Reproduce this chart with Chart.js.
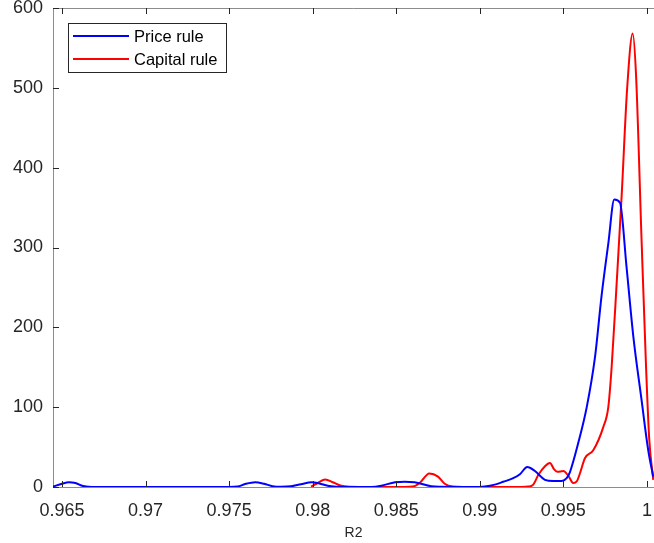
<!DOCTYPE html>
<html lang="en">
<head>
  <meta charset="UTF-8" />
  <title>R2 density</title>
  <script src="https://cdn.jsdelivr.net/npm/chart.js"></script>
  <style>
    body { margin: 0; background: #fff; }
    canvas { display: block; }
  </style>
</head>
<body>
  <canvas id="graficoR2" width="654" height="543"></canvas>

  <script>
    // density estimates of R2 for each rule
    const priceR2 = [0.96446, 0.9650, 0.9654, 0.9658, 0.9662, 0.9666, 0.9670, 0.9750, 0.9755, 0.9760, 0.97656, 0.9771, 0.9776,
      0.9781, 0.9787, 0.9793, 0.97995, 0.9804, 0.9809, 0.9815, 0.9820, 0.9835, 0.9841, 0.98493, 0.9855, 0.9861, 0.9866,
      0.9871, 0.9877, 0.9882, 0.9900, 0.9903, 0.9909, 0.9914, 0.9920, 0.9924, 0.99284, 0.9933, 0.9939, 0.9944, 0.9949,
      0.9952, 0.9954, 0.99589, 0.9964, 0.99689, 0.99729, 0.99769, 0.99805, 0.99839, 0.99878, 0.99918, 0.99968, 1.00008, 1.00038];
    const priceDensity = [0.5, 4, 6, 5, 1.5, 0.3, 0, 0, 0.5, 4, 6, 4, 1,
      0.3, 0.8, 3.5, 6, 4.5, 1.5, 0.3, 0, 0, 1.5, 6, 6.5, 6, 3.5,
      1, 0.2, 0, 0, 0.5, 3, 6.5, 11, 16, 25, 20, 9, 7.5, 7.5,
      11, 19, 55, 100, 162, 240, 305, 360, 356, 276, 190, 109, 46, 13];

    const capitalR2 = [0.9799, 0.9803, 0.98075, 0.9812, 0.9817, 0.9822, 0.9828, 0.9855, 0.9860, 0.9864, 0.98698, 0.9875,
      0.9879, 0.9884, 0.9890, 0.9925, 0.9929, 0.9932, 0.9935, 0.9939, 0.9942, 0.99445, 0.99464, 0.9950, 0.9953, 0.99559,
      0.9958, 0.9960, 0.99629, 0.99679, 0.99739, 0.99769, 0.99789, 0.99819, 0.99849, 0.99882, 0.99915, 0.99935, 0.99968,
      0.99995, 1.00014, 1.00038];
    const capitalDensity = [0.5, 5, 9.5, 6, 1.5, 0.2, 0, 0, 0.5, 5, 17, 13,
      4, 0.5, 0, 0, 0.5, 3, 15, 26, 30, 22, 19, 20, 14, 5,
      7, 17.5, 36, 46, 75, 100, 150, 255, 365, 500, 568, 516, 310,
      150, 60, 9];

    const xTicks = [0.965, 0.97, 0.975, 0.98, 0.985, 0.99, 0.995, 1];
    const xTickLabels = ['0.965', '0.97', '0.975', '0.98', '0.985', '0.99', '0.995', '1'];
    const yTicks = [0, 100, 200, 300, 400, 500, 600];
    const yTickLabels = ['0', '100', '200', '300', '400', '500', '600'];

    const corTexto = '#262626';
    const corEixo = '#8c8c8c';
    const fonte = '"Liberation Sans", Arial, sans-serif';

    // box, inward ticks and the legend inside the plot
    const molduraPlugin = {
      id: 'moldura',
      afterDraw(chart) {
        const { ctx, chartArea: a, scales: { x, y } } = chart;
        ctx.save();
        ctx.lineWidth = 1;
        ctx.strokeStyle = corEixo;
        ctx.beginPath();
        ctx.moveTo(a.left + 0.5, a.top + 0.5);
        ctx.lineTo(a.right, a.top + 0.5);
        ctx.stroke();

        ctx.strokeStyle = corTexto;
        ctx.beginPath();
        xTicks.forEach(v => {
          const px = Math.round(x.getPixelForValue(v)) + 0.5;
          ctx.moveTo(px, a.bottom);
          ctx.lineTo(px, a.bottom - 6);
          ctx.moveTo(px, a.top);
          ctx.lineTo(px, a.top + 6);
        });
        yTicks.forEach(v => {
          const py = Math.round(y.getPixelForValue(v)) + 0.5;
          ctx.moveTo(a.left, py);
          ctx.lineTo(a.left + 6, py);
        });
        ctx.stroke();

        // legend
        const lx = 68, ly = 23, lw = 158, lh = 49;
        ctx.fillStyle = '#fff';
        ctx.fillRect(lx, ly, lw, lh);
        ctx.strokeStyle = corTexto;
        ctx.strokeRect(lx + 0.5, ly + 0.5, lw, lh);
        ctx.font = '16.5px ' + fonte;
        ctx.textBaseline = 'middle';
        chart.data.datasets.forEach((ds, i) => {
          const cy = ly + 13 + i * 23;
          ctx.strokeStyle = ds.borderColor;
          ctx.lineWidth = 2;
          ctx.beginPath();
          ctx.moveTo(lx + 5, cy);
          ctx.lineTo(lx + 61, cy);
          ctx.stroke();
          ctx.fillStyle = '#000';
          ctx.fillText(ds.label, lx + 66, cy + 1);
        });
        ctx.restore();
      }
    };

    new Chart(document.getElementById('graficoR2'), {
      type: 'line',
      data: {
        datasets: [
          {
            label: 'Price rule',
            data: priceR2.map((v, i) => ({ x: v, y: priceDensity[i] })),
            borderColor: '#0000ff',
            borderWidth: 2,
            pointRadius: 0,
            fill: false,
            cubicInterpolationMode: 'monotone'
          },
          {
            label: 'Capital rule',
            data: capitalR2.map((v, i) => ({ x: v, y: capitalDensity[i] })),
            borderColor: '#ff0000',
            borderWidth: 2,
            pointRadius: 0,
            fill: false,
            cubicInterpolationMode: 'monotone'
          }
        ]
      },
      options: {
        responsive: false,
        animation: false,
        layout: { padding: { top: 8, right: 0, left: 0, bottom: 0 } },
        plugins: {
          legend: { display: false },
          tooltip: { enabled: false }
        },
        scales: {
          x: {
            type: 'linear',
            min: 0.96446,
            max: 1.000425,
            afterBuildTicks: s => { s.ticks = xTicks.map(v => ({ value: v })); },
            afterFit: s => {
              s.height = 56;
              s.paddingLeft = 0;
              s.paddingRight = 0;
            },
            grid: { display: false, drawTicks: false },
            border: { color: corEixo, width: 1 },
            ticks: {
              autoSkip: false,
              maxRotation: 0,
              padding: 13,
              color: corTexto,
              font: { family: fonte, size: 18 },
              callback: (v, i) => xTickLabels[i]
            },
            title: {
              display: true,
              text: 'R2',
              color: corTexto,
              padding: { top: 0, bottom: 1 },
              font: { family: fonte, size: 14 }
            }
          },
          y: {
            min: 0,
            max: 600,
            afterBuildTicks: s => { s.ticks = yTicks.map(v => ({ value: v })); },
            afterFit: s => {
              s.width = 53;
              s.paddingTop = 0;
              s.paddingBottom = 0;
            },
            grid: { display: false, drawTicks: false },
            border: { color: corEixo, width: 1 },
            ticks: {
              padding: 10,
              color: corTexto,
              font: { family: fonte, size: 18 },
              callback: (v, i) => yTickLabels[i]
            }
          }
        }
      },
      plugins: [molduraPlugin]
    });
  </script>
</body>
</html>
